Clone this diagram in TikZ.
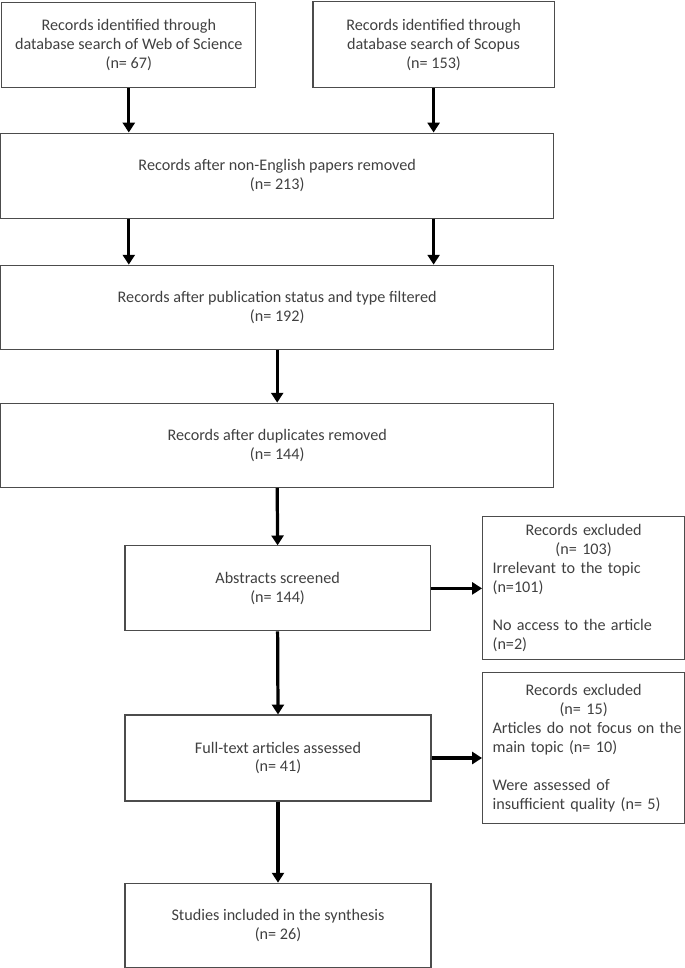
\documentclass[tikz,border=0pt]{standalone}
\usepackage{fontspec}
\setmainfont{Carlito}
\usetikzlibrary{arrows.meta}
\tikzset{
  base/.style={draw=black!70, line width=0.8pt, text=black!75,
    font=\fontsize{11.5}{13.5}\selectfont},
  stage/.style={base, align=center, inner sep=2pt},
  excl/.style={base, text width=4.55cm, inner xsep=0.25cm, inner ysep=3pt},
  flow/.style={-{Triangle[width=8.5pt,length=7pt]}, line width=2.3pt, black}
}
\begin{document}
\begin{tikzpicture}
            \useasboundingbox (0,0) rectangle (17.125,-24.2);
            % identification
            \node[stage, minimum width=6.35cm, minimum height=2.125cm] (wos) at (3.22,-1.12)
                {Records identified through\\database search of Web of Science\\(n= 67)};
            \node[stage, minimum width=6.03cm, minimum height=2.15cm] (scopus) at (10.84,-1.12)
                {Records identified through\\database search of Scopus\\(n= 153)};
            \node[stage, minimum width=13.82cm, minimum height=2.125cm] (noneng) at (6.93,-4.39)
                {Records after non-English papers removed\\(n= 213)};
            \node[stage, minimum width=13.82cm, minimum height=2.1cm] (pubstat) at (6.93,-7.68)
                {Records after publication status and type filtered\\(n= 192)};
            \node[stage, minimum width=13.82cm, minimum height=2.1cm] (dup) at (6.93,-11.13)
                {Records after duplicates removed\\(n= 144)};
            % screening
            \node[stage, minimum width=7.63cm, minimum height=2.125cm] (abstr) at (6.94,-14.71)
                {Abstracts screened\\(n= 144)};
            \node[excl, minimum height=3.575cm] (excl1) at (14.59,-14.71)
                {{\centering Records excluded\\(n= 103)\par}\raggedright
                 Irrelevant to the topic\\(n=101)\\[13.5pt]No access to the article\\(n=2)};
            \node[stage, minimum width=7.65cm, minimum height=2.15cm] (full) at (6.95,-18.95)
                {Full-text articles assessed\\(n= 41)};
            \node[excl, minimum height=3.775cm] (excl2) at (14.59,-18.71)
                {{\centering Records excluded\\(n= 15)\par}\raggedright
                 \mbox{Articles do not focus on the}\\main topic (n= 10)\\[13.5pt]Were assessed of\\insufficient quality (n= 5)};
            % included
            \node[stage, minimum width=7.65cm, minimum height=2.1cm] (studies) at (6.95,-23.13)
                {Studies included in the synthesis\\(n= 26)};
            % arrows
            \draw[flow] (wos.south) -- (wos.south |- noneng.north);
            \draw[flow] (scopus.south) -- (scopus.south |- noneng.north);
            \draw[flow] (noneng.south -| wos.south) -- (pubstat.north -| wos.south);
            \draw[flow] (noneng.south -| scopus.south) -- (pubstat.north -| scopus.south);
            \draw[flow] (pubstat.south) -- (dup.north);
            \draw[flow] (dup.south) -- (abstr.north);
            \draw[flow] (abstr.east) -- (abstr.east -| excl1.west);
            \draw[flow] (abstr.south) -- (full.north);
            \draw[flow] (full.east) -- (full.east -| excl2.west);
            \draw[flow] (full.south) -- (studies.north);
        \end{tikzpicture}
\end{document}
